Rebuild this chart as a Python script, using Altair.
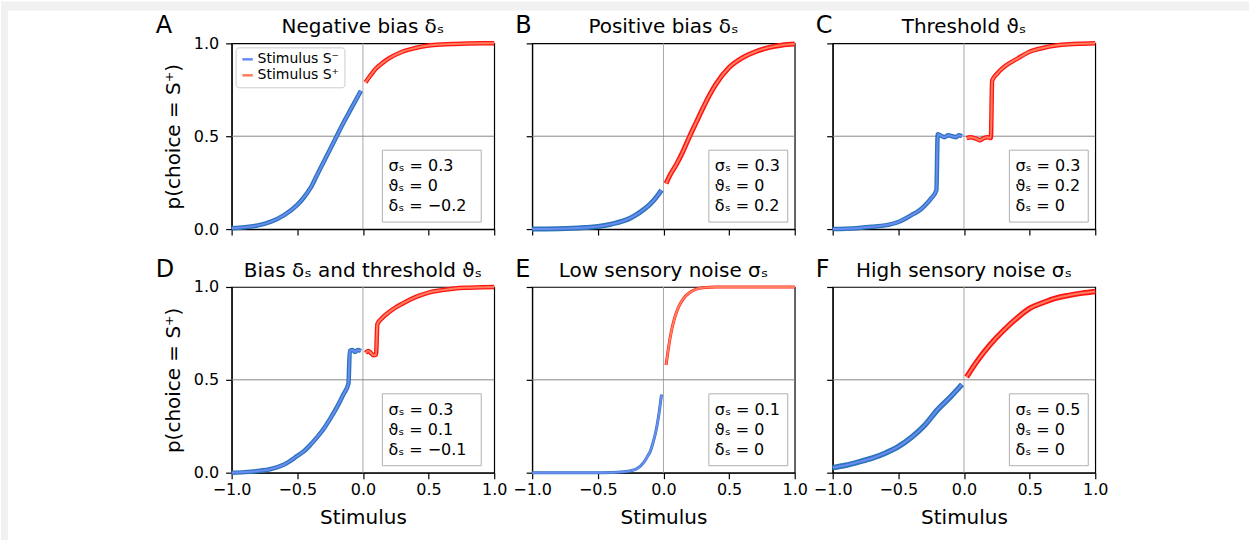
import altair as alt
import pandas as pd

FONT = "DejaVu Sans"
NEG = "Stimulus S⁻"
POS = "Stimulus S⁺"
X_TICKS = [-1.0, -0.5, 0.0, 0.5, 1.0]
Y_TICKS = [0.0, 0.5, 1.0]

# ---------------- Panel A: negative bias ----------------
A_neg_x = [-1.0, -0.9, -0.8, -0.7, -0.6, -0.5, -0.45, -0.4, -0.35, -0.3, -0.25, -0.2, -0.15, -0.1, -0.05, -0.015]
A_neg_y = [0.005, 0.01, 0.02, 0.04, 0.075, 0.13, 0.17, 0.22, 0.29, 0.36, 0.43, 0.50, 0.57, 0.635, 0.70, 0.745]
A_pos_x = [0.02, 0.05, 0.1, 0.15, 0.2, 0.3, 0.4, 0.5, 0.6, 0.7, 0.8, 0.9, 1.0]
A_pos_y = [0.79, 0.82, 0.865, 0.895, 0.92, 0.955, 0.975, 0.988, 0.994, 0.997, 0.999, 1.0, 1.0]

# ---------------- Panel B: positive bias ----------------
B_neg_x = [-1.0, -0.9, -0.8, -0.7, -0.6, -0.5, -0.4, -0.3, -0.25, -0.2, -0.15, -0.1, -0.05, -0.015]
B_neg_y = [0.0, 0.001, 0.002, 0.004, 0.008, 0.014, 0.026, 0.045, 0.06, 0.08, 0.105, 0.135, 0.175, 0.21]
B_pos_x = [0.02, 0.05, 0.1, 0.15, 0.2, 0.25, 0.3, 0.35, 0.4, 0.5, 0.6, 0.7, 0.8, 0.9, 1.0]
B_pos_y = [0.245, 0.29, 0.35, 0.42, 0.50, 0.575, 0.65, 0.72, 0.78, 0.87, 0.922, 0.955, 0.977, 0.99, 0.996]

# ---------------- Panel C: threshold ----------------
C_neg_x = [-1.0, -0.9, -0.8, -0.7, -0.6, -0.5, -0.4, -0.35, -0.3, -0.25, -0.21, -0.2, -0.18, -0.15, -0.12, -0.09, -0.06, -0.04, -0.015]
C_neg_y = [0.0, 0.002, 0.006, 0.012, 0.02, 0.038, 0.075, 0.095, 0.125, 0.165, 0.21, 0.51, 0.505, 0.495, 0.505, 0.50, 0.495, 0.505, 0.50]
C_pos_x = [0.02, 0.05, 0.08, 0.1, 0.12, 0.15, 0.18, 0.205, 0.215, 0.25, 0.3, 0.35, 0.4, 0.5, 0.6, 0.7, 0.8, 0.9, 1.0]
C_pos_y = [0.49, 0.495, 0.49, 0.485, 0.478, 0.49, 0.495, 0.49, 0.80, 0.835, 0.87, 0.895, 0.915, 0.955, 0.975, 0.988, 0.995, 0.998, 1.0]

# ---------------- Panel D: bias and threshold ----------------
D_neg_x = [-1.0, -0.9, -0.8, -0.7, -0.6, -0.5, -0.45, -0.4, -0.35, -0.3, -0.25, -0.2, -0.15, -0.11, -0.1, -0.08, -0.06, -0.04, -0.015]
D_neg_y = [0.0, 0.003, 0.009, 0.02, 0.044, 0.09, 0.115, 0.15, 0.19, 0.235, 0.29, 0.35, 0.42, 0.48, 0.655, 0.66, 0.65, 0.66, 0.655]
D_pos_x = [0.02, 0.04, 0.06, 0.08, 0.1, 0.11, 0.15, 0.2, 0.25, 0.3, 0.4, 0.5, 0.6, 0.7, 0.8, 0.9, 1.0]
D_pos_y = [0.645, 0.655, 0.645, 0.632, 0.635, 0.80, 0.835, 0.865, 0.89, 0.91, 0.945, 0.97, 0.983, 0.992, 0.996, 0.999, 1.0]

# ---------------- Panel E: low sensory noise ----------------
E_neg_x = [-1.0, -0.8, -0.6, -0.5, -0.4, -0.35, -0.3, -0.25, -0.2, -0.15, -0.12, -0.1, -0.08, -0.06, -0.04, -0.015]
E_neg_y = [0.0, 0.0, 0.0, 0.0, 0.001, 0.002, 0.005, 0.01, 0.022, 0.055, 0.09, 0.115, 0.16, 0.215, 0.29, 0.42]
E_pos_x = [0.02, 0.04, 0.06, 0.08, 0.1, 0.12, 0.15, 0.2, 0.25, 0.3, 0.4, 0.6, 0.8, 1.0]
E_pos_y = [0.58, 0.68, 0.76, 0.82, 0.865, 0.90, 0.935, 0.97, 0.988, 0.996, 1.0, 1.0, 1.0, 1.0]

# ---------------- Panel F: high sensory noise ----------------
F_neg_x = [-1.0, -0.9, -0.8, -0.7, -0.6, -0.5, -0.4, -0.3, -0.2, -0.1, -0.015]
F_neg_y = [0.027, 0.04, 0.058, 0.078, 0.105, 0.14, 0.19, 0.255, 0.34, 0.41, 0.475]
F_pos_x = [0.02, 0.1, 0.2, 0.3, 0.4, 0.5, 0.6, 0.7, 0.8, 0.9, 1.0]
F_pos_y = [0.515, 0.60, 0.69, 0.765, 0.83, 0.885, 0.915, 0.94, 0.955, 0.967, 0.976]

LETTERS = ["A", "B", "C", "D", "E", "F"]
TITLES = [
    "Negative bias δₛ",
    "Positive bias δₛ",
    "Threshold ϑₛ",
    "Bias δₛ and threshold ϑₛ",
    "Low sensory noise σₛ",
    "High sensory noise σₛ",
]
PARAMS = [
    ["σₛ = 0.3", "ϑₛ = 0", "δₛ = −0.2"],
    ["σₛ = 0.3", "ϑₛ = 0", "δₛ = 0.2"],
    ["σₛ = 0.3", "ϑₛ = 0.2", "δₛ = 0"],
    ["σₛ = 0.3", "ϑₛ = 0.1", "δₛ = −0.1"],
    ["σₛ = 0.1", "ϑₛ = 0", "δₛ = 0"],
    ["σₛ = 0.5", "ϑₛ = 0", "δₛ = 0"],
]
CURVES = [
    (A_neg_x, A_neg_y, A_pos_x, A_pos_y),
    (B_neg_x, B_neg_y, B_pos_x, B_pos_y),
    (C_neg_x, C_neg_y, C_pos_x, C_pos_y),
    (D_neg_x, D_neg_y, D_pos_x, D_pos_y),
    (E_neg_x, E_neg_y, E_pos_x, E_pos_y),
    (F_neg_x, F_neg_y, F_pos_x, F_pos_y),
]

LIGHT = ["#6b8cf5", "#ff7f5e"]
DARK = ["#2a74b8", "#ff1414"]
BAND_W = [4.5, 5.0, 4.5, 4.5, 3.0, 5.5]
W, H = 263, 186
# canvas position of panel A's plot area (used for the light page frame)
OX, OY = 231, 42
CANVAS_W, CANVAS_H = 1250, 540
FRAME = "#f1f1f1"


def panel(i):
    row, col = divmod(i, 3)
    nx, ny, px, py = CURVES[i]
    df = pd.DataFrame({
        "x": nx + px,
        "p": ny + py,
        "stim": [NEG] * len(nx) + [POS] * len(px),
    })
    one = pd.DataFrame({"k": [0]})

    x_axis = alt.Axis(values=X_TICKS, format=".1f", labels=(row == 1),
                      title=("Stimulus" if row == 1 else None))
    y_axis = alt.Axis(values=Y_TICKS, format=".1f", labels=(col == 0),
                      title=("p(choice = S⁺)" if col == 0 else None))
    xs = alt.Scale(domain=[-1, 1], nice=False, zero=False)
    ys = alt.Scale(domain=[0, 1], nice=False, zero=False)

    base = alt.Chart(df).encode(
        x=alt.X("x:Q", scale=xs, axis=x_axis),
        y=alt.Y("p:Q", scale=ys, axis=y_axis),
    )

    vline = alt.Chart(one).mark_rule(color="#a8a8a8", strokeWidth=1).encode(x=alt.datum(0))
    hline = alt.Chart(one).mark_rule(color="#888888", strokeWidth=1).encode(y=alt.datum(0.5))

    band = base.mark_line(strokeWidth=BAND_W[i], interpolate="monotone").encode(
        stroke=alt.Stroke("stim:N", scale=alt.Scale(domain=[NEG, POS], range=DARK), legend=None)
    )
    if i == 0:
        leg = alt.Legend(title=None, orient="top-left", offset=4, symbolType="stroke",
                         symbolStrokeWidth=2.5, symbolSize=110, labelFontSize=14,
                         labelFont=FONT, labelColor="black", strokeColor="#cccccc",
                         fillColor="white", cornerRadius=3, padding=5, rowPadding=2,
                         labelOffset=3)
    else:
        leg = None
    line = base.mark_line(strokeWidth=2, interpolate="monotone").encode(
        color=alt.Color("stim:N", scale=alt.Scale(domain=[NEG, POS], range=LIGHT), legend=leg)
    )

    if i in (0, 3):
        bx0, bx1 = 151, 250
    else:
        bx0, bx1 = 177, 256
    box = alt.Chart(one).mark_rect(fill="white", stroke="#b0b0b0", strokeWidth=1).encode(
        x=alt.value(bx0), x2=alt.value(bx1), y=alt.value(107), y2=alt.value(179)
    )
    txt = alt.Chart(one).mark_text(align="left", baseline="alphabetic", fontSize=16,
                                   lineHeight=20, font=FONT, color="black").encode(
        x=alt.value(bx0 + 6), y=alt.value(128), text=alt.value(PARAMS[i])
    )
    lx = -76 if col == 0 else -17
    letter = alt.Chart(one).mark_text(align="left", baseline="alphabetic", fontSize=24,
                                      font=FONT, color="black").encode(
        x=alt.value(lx), y=alt.value(-10), text=alt.value(LETTERS[i])
    )
    title = alt.Chart(one).mark_text(align="center", baseline="alphabetic", fontSize=20,
                                     font=FONT, color="black").encode(
        x=alt.value(W / 2), y=alt.value(-10), text=alt.value(TITLES[i])
    )

    layers = []
    if i == 0:
        # light page frame along the top and left edges of the figure
        top_band = alt.Chart(one).mark_rect(fill=FRAME).encode(
            x=alt.value(-OX), x2=alt.value(CANVAS_W - OX),
            y=alt.value(-OY), y2=alt.value(-OY + 9))
        left_band = alt.Chart(one).mark_rect(fill=FRAME).encode(
            x=alt.value(-OX), x2=alt.value(-OX + 7),
            y=alt.value(-OY), y2=alt.value(CANVAS_H - OY))
        layers += [top_band, left_band]
    layers += [vline, hline, band, line, box, txt, letter, title]
    ch = alt.layer(*layers).properties(width=W, height=H).resolve_scale(
        color="independent", stroke="independent")
    return ch


charts = [panel(i) for i in range(6)]
chart = alt.concat(*charts, columns=3, spacing={"row": 58, "column": 38}, bounds="flush").resolve_scale(
    color="independent", stroke="independent", x="independent", y="independent"
).resolve_legend(color="independent", stroke="independent").properties(
    padding={"left": 0, "top": 0, "right": 0, "bottom": 0},
    background="white",
).configure_view(
    stroke="black", strokeWidth=1.2
).configure_axis(
    domainColor="black", domainWidth=1.2, tickColor="black", tickWidth=1.2, tickSize=6,
    labelColor="black", labelFontSize=16, labelFont=FONT, titleColor="black",
    titleFontSize=20, titleFont=FONT, titleFontWeight="normal", grid=False,
    labelFlush=False,
).configure_axisX(
    labelPadding=3, titlePadding=10
).configure_axisY(
    labelPadding=7, titlePadding=10
)

chart.save("out.html", embed_options={"renderer": "svg", "actions": False})
